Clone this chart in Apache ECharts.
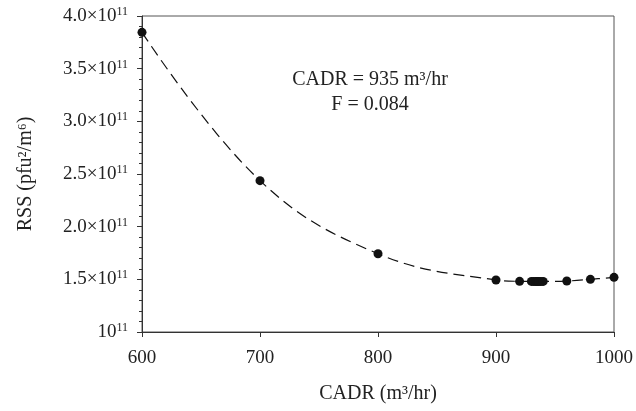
<!DOCTYPE html>
<html>
<head>
<meta charset="utf-8">
<script src="https://cdn.jsdelivr.net/npm/echarts@6/dist/echarts.min.js"></script>
<style>
  html, body { margin: 0; padding: 0; background: #fff; }
  #chart { width: 636px; height: 411px; }
</style>
</head>
<body>
<div id="chart"></div>
<script>
// CADR (m3/hr) vs RSS (pfu2/m6, in units of 1e11)
let cadr = [600, 700, 800, 900, 920, 930, 932, 934, 935, 936, 938, 940, 960, 980, 1000];
let rss = [3.845, 2.437, 1.743, 1.494, 1.481, 1.480, 1.479, 1.479, 1.479, 1.479, 1.479, 1.480, 1.484, 1.500, 1.519];
let yTicks = { 1: "10", 1.5: "1.5×10", 2: "2.0×10", 2.5: "2.5×10", 3: "3.0×10", 3.5: "3.5×10", 4: "4.0×10" };

let font = "Liberation Serif";
let points = cadr.map(function (x, i) { return [x, rss[i]]; });

let option = {
  animation: false,
  grid: {
    left: 142,
    right: 19,
    top: 16,
    bottom: 79,
    show: true,
    borderColor: "#555",
    borderWidth: 1
  },
  xAxis: {
    type: "value",
    min: 600,
    max: 1000,
    interval: 100,
    name: "CADR (m³/hr)",
    nameLocation: "middle",
    nameGap: 52,
    nameTextStyle: { fontFamily: font, fontSize: 20, color: "#222" },
    axisLine: { onZero: false, lineStyle: { color: "#333" } },
    axisTick: { length: 5, lineStyle: { color: "#333" } },
    axisLabel: {
      margin: 17,
      fontFamily: font,
      fontSize: 19,
      color: "#222",
      formatter: function (v) { return String(v); }
    },
    splitLine: { show: false }
  },
  yAxis: {
    type: "value",
    min: 1,
    max: 4,
    interval: 0.5,
    name: "RSS (pfu²/m⁶)",
    nameLocation: "middle",
    nameGap: 106,
    nameTextStyle: { fontFamily: font, fontSize: 20, color: "#222" },
    axisLine: { show: true, lineStyle: { color: "#333" } },
    axisTick: { length: 5, lineStyle: { color: "#333" } },
    minorTick: { show: true, splitNumber: 5, length: 3, lineStyle: { color: "#333" } },
    axisLabel: {
      margin: 14,
      fontFamily: font,
      fontSize: 19,
      color: "#222",
      formatter: function (v) {
        return "{b|" + yTicks[v] + "}{s|11}";
      },
      rich: {
        b: { fontFamily: font, fontSize: 19, color: "#222" },
        s: { fontFamily: font, fontSize: 12, color: "#222", verticalAlign: "top", padding: [0, 0, 8, 0] }
      }
    },
    splitLine: { show: false }
  },
  graphic: [
    {
      type: "text",
      x: 370,
      y: 80,
      style: {
        text: "CADR = 935 m³/hr",
        fontFamily: font,
        fontSize: 20,
        fill: "#222",
        align: "center",
        verticalAlign: "middle"
      }
    },
    {
      type: "text",
      x: 370,
      y: 105,
      style: {
        text: "F = 0.084",
        fontFamily: font,
        fontSize: 20,
        fill: "#222",
        align: "center",
        verticalAlign: "middle"
      }
    }
  ],
  series: [
    {
      type: "line",
      data: points,
      smooth: 0.4,
      symbol: "circle",
      symbolSize: 9,
      itemStyle: { color: "#111" },
      lineStyle: { color: "#111", width: 1.2, type: [11, 6] }
    }
  ]
};

let chart = echarts.init(document.getElementById("chart"));
chart.setOption(option);
</script>
</body>
</html>
